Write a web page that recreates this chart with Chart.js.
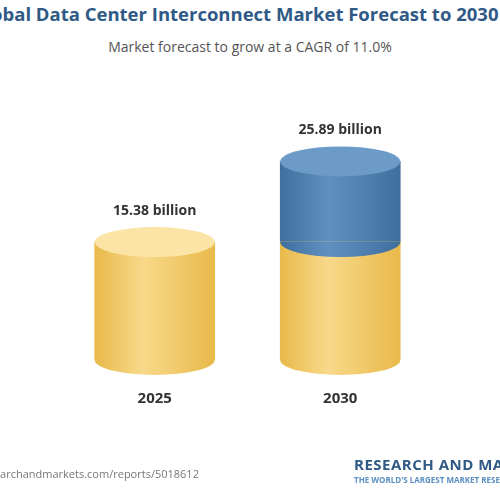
<!DOCTYPE html>
<html><head><meta charset="utf-8">
<script src="https://cdn.jsdelivr.net/npm/chart.js@4"></script>
<style>
body{margin:0;width:500px;height:500px;background:#fff;overflow:hidden;font-family:"Open Sans",Roboto,sans-serif;position:relative}
#t{position:absolute;top:1px;left:-28px;white-space:nowrap;font-size:18.5px;font-weight:bold;color:#2f5a86}
#s{position:absolute;top:37px;width:500px;text-align:center;font-size:14px;color:#555}
#u{position:absolute;top:466px;left:-22px;font-size:11px;color:#777}
#l1{position:absolute;top:454px;left:354px;font-size:15px;font-weight:bold;color:#2f5a86;white-space:nowrap;letter-spacing:0.5px}
#l2{position:absolute;top:474px;left:354px;font-size:8px;font-weight:bold;color:#5a8fc0;white-space:nowrap}
canvas{position:absolute;left:0;top:0}
</style></head><body>
<div id="t">Global Data Center Interconnect Market Forecast to 2030</div>
<div id="s">Market forecast to grow at a CAGR of 11.0%</div>
<canvas id="c" width="500" height="500"></canvas>
<div id="u">researchandmarkets.com/reports/5018612</div>
<div id="l1">RESEARCH AND MARKETS</div>
<div id="l2">THE WORLD'S LARGEST MARKET RESEARCH STORE</div>
<script>
const years=["2025","2030"];
const baseValues=[15.38,15.38];
const growthValues=[0,10.51];
const totalLabels=["15.38 billion","25.89 billion"];
const yellow=["#e9b94a","#f8d98a","#e9b94a"], yellowTop="#fbe4a6";
const blue=["#3f6f9e","#5f90c0","#3f6f9e"], blueTop="#6c9bc8";
function grad(ctx,x0,x1,c){if(!isFinite(x0)||!isFinite(x1))return c[1];const g=ctx.createLinearGradient(x0,0,x1,0);g.addColorStop(0,c[0]);g.addColorStop(0.4,c[1]);g.addColorStop(1,c[2]);return g;}
function bg(cols){return c=>{const s=c.chart.scales&&c.chart.scales.x;if(!s)return cols[1];const x=s.getPixelForValue(c.dataIndex);return grad(c.chart.ctx,x-60,x+60,cols);};}
const RY=15;
const cyl={id:'cyl',afterDatasetsDraw(chart){
 const ctx=chart.ctx;
 [0,1].forEach(di=>{
  const meta=chart.getDatasetMeta(di);
  meta.data.forEach((el,i)=>{
   const v=chart.data.datasets[di].data[i]; if(!v)return;
   const w=el.width,x0=el.x-w/2,x1=el.x+w/2,rx=w/2;
   const cols=di===0?yellow:blue;
   ctx.save();ctx.fillStyle=grad(ctx,x0,x1,cols);
   ctx.beginPath();ctx.ellipse(el.x,el.base,rx,RY,0,0,Math.PI);ctx.fill();
   const top=(di===1)||!growthValues[i];
   if(top){ctx.fillStyle=di===0?yellowTop:blueTop;ctx.beginPath();ctx.ellipse(el.x,el.y,rx,RY,0,0,2*Math.PI);ctx.fill();
    ctx.fillStyle="#333";ctx.font="bold 14px 'Open Sans',sans-serif";ctx.textAlign="center";
    ctx.fillText(totalLabels[i],el.x,el.y-RY-12);}
   ctx.restore();
  });
 });
}};
new Chart(document.getElementById('c'),{type:'bar',
 data:{labels:years,datasets:[
  {data:baseValues,backgroundColor:bg(yellow)},
  {data:growthValues,backgroundColor:bg(blue)}]},
 options:{responsive:false,animation:false,layout:{padding:{left:62,right:67,top:100,bottom:70}},
  plugins:{legend:{display:false},tooltip:{enabled:false}},
  datasets:{bar:{barThickness:120}},
  scales:{x:{stacked:true,grid:{display:false},border:{display:false},ticks:{color:"#333",font:{size:15,weight:'bold',family:"'Open Sans',sans-serif"},padding:22}},
   y:{stacked:true,display:false,min:0,max:25.89*275/210}}},
 plugins:[cyl]});
</script></body></html>
